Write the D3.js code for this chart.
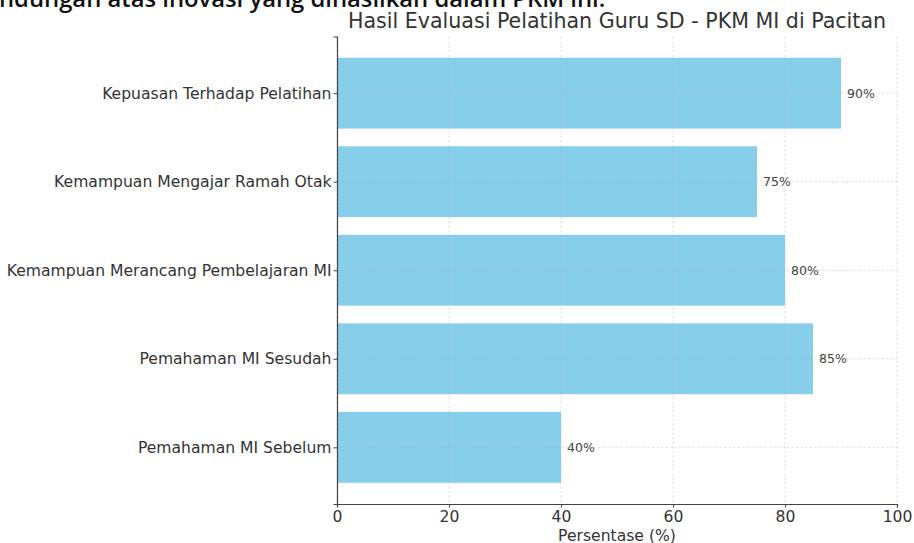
<!DOCTYPE html>
<html>
<head>
<meta charset="utf-8">
<script src="https://cdn.jsdelivr.net/npm/d3@7"></script>
<style>
  body { margin: 0; background: #fff; }
  svg { display: block; }
</style>
</head>
<body>
<div id="chart"></div>
<script>
// Data, bottom to top as in the picture
const categories = [
  "Pemahaman MI Sebelum",
  "Pemahaman MI Sesudah",
  "Kemampuan Merancang Pembelajaran MI",
  "Kemampuan Mengajar Ramah Otak",
  "Kepuasan Terhadap Pelatihan"
];
const values = [40, 85, 80, 75, 90];
const xTicks = [0, 20, 40, 60, 80, 100];

const W = 914, H = 543;
const margins = { top: 36.5, right: 17, bottom: 39, left: 337 };
const cw = W - margins.left - margins.right;
const ch = H - margins.top - margins.bottom;
const fs = 15.6; // tick / label font size

let svg = d3.select("#chart").append("svg")
  .attr("width", W)
  .attr("height", H)
  .style("font-family", "DejaVu Sans, sans-serif");

// cut-off line of document text above the chart
svg.append("text")
  .attr("x", -1)
  .attr("y", 6.5)
  .attr("font-family", "Open Sans, sans-serif")
  .attr("font-weight", 600)
  .attr("font-size", 23.8)
  .attr("fill", "#111")
  .text("ndungan atas inovasi yang dihasilkan dalam PKM ini.");

// title
svg.append("text")
  .attr("x", margins.left + cw / 2)
  .attr("y", 27.5)
  .attr("text-anchor", "middle")
  .attr("font-size", 20.6)
  .attr("fill", "#333")
  .text("Hasil Evaluasi Pelatihan Guru SD - PKM MI di Pacitan");

let g = svg.append("g")
  .attr("transform", "translate(" + margins.left + "," + margins.top + ")");

let x = d3.scaleLinear().domain([0, 100]).range([0, cw]);
// matplotlib-like: bar height 0.8, 5% margin on the y data range
let y = d3.scaleLinear()
  .domain([-0.4 - 0.24, categories.length - 0.6 + 0.24])
  .range([ch, 0]);
const barH = y(0) - y(0.8);

// bars
g.append("g").attr("id", "bars")
  .selectAll("rect")
  .data(values)
  .join("rect")
  .attr("x", x(0))
  .attr("y", (d, i) => y(i + 0.4))
  .attr("width", d => x(d) - x(0))
  .attr("height", barH)
  .attr("fill", "#87CEEB");

// grid (drawn on top, faint)
let grid = g.append("g").attr("id", "grid")
  .attr("stroke", "#b0b0b0")
  .attr("stroke-opacity", 0.5)
  .attr("stroke-dasharray", "2.5,2")
  .attr("stroke-width", 0.8);
xTicks.forEach(t => {
  grid.append("line")
    .attr("x1", x(t)).attr("x2", x(t))
    .attr("y1", 0).attr("y2", ch);
});
categories.forEach((c, i) => {
  grid.append("line")
    .attr("x1", 0).attr("x2", cw)
    .attr("y1", y(i)).attr("y2", y(i));
});

// value labels
g.append("g").attr("id", "labels")
  .selectAll("text")
  .data(values)
  .join("text")
  .attr("x", d => x(d) + 6)
  .attr("y", (d, i) => y(i))
  .attr("dy", "0.35em")
  .attr("font-size", 12.5)
  .attr("fill", "#444")
  .text(d => d + "%");

// x axis
let xAxis = g.append("g")
  .attr("transform", "translate(0," + ch + ")")
  .call(d3.axisBottom(x).tickValues(xTicks).tickSize(3.5).tickPadding(3));
xAxis.selectAll("text").attr("font-size", fs).attr("fill", "#333")
  .attr("font-family", "DejaVu Sans, sans-serif");

// y axis
let yAxis = g.append("g")
  .call(d3.axisLeft(y).tickValues(d3.range(categories.length))
    .tickFormat(i => categories[i]).tickSize(3.5).tickPadding(2));
yAxis.selectAll("text").attr("font-size", fs).attr("fill", "#333")
  .attr("font-family", "DejaVu Sans, sans-serif");

[xAxis, yAxis].forEach(a => {
  a.select(".domain").attr("stroke", "#444").attr("stroke-width", 1.2);
  a.selectAll(".tick line").attr("stroke", "#444");
});

// x label
svg.append("text")
  .attr("x", margins.left + cw / 2)
  .attr("y", 540.5)
  .attr("text-anchor", "middle")
  .attr("font-size", fs)
  .attr("fill", "#333")
  .text("Persentase (%)");
</script>
</body>
</html>
